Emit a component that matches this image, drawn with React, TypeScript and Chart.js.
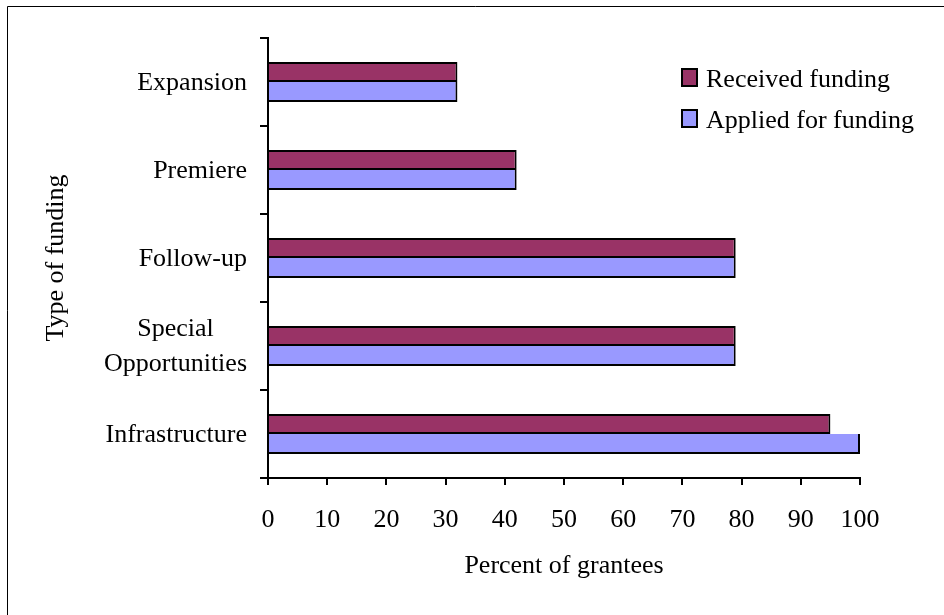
import React, { useEffect, useRef } from "react";
import { Chart, registerables } from "chart.js";

Chart.register(...registerables);

// Funding types, top to bottom
const categories: (string | string[])[] = [
  "Expansion",
  "Premiere",
  "Follow-up",
  ["Special", "Opportunities"],
  "Infrastructure",
];

// Percent of grantees for each funding type
const receivedFunding = [32, 42, 79, 79, 95];
const appliedFunding = [32, 42, 79, 79, 100];

const xMin = 0;
const xMax = 100;
const xStep = 10;

const FONT = '"Liberation Serif", "Times New Roman", Times, serif';
const FONT_SIZE = 26;
const MAROON = "#993366";
const LAVENDER = "#9999FF";

// Thin frame around the whole figure
const framePlugin = {
  id: "frame",
  beforeDraw(chart: any) {
    const { ctx } = chart;
    ctx.save();
    ctx.fillStyle = "#fff";
    ctx.fillRect(0, 0, chart.width, chart.height);
    ctx.strokeStyle = "#000";
    ctx.lineWidth = 1;
    ctx.beginPath();
    ctx.moveTo(7.5, chart.height);
    ctx.lineTo(7.5, 6.5);
    ctx.lineTo(chart.width, 6.5);
    ctx.stroke();
    ctx.restore();
  },
};

// Category labels: block right-aligned to the axis, lines centred within the block
const categoryLabelPlugin = {
  id: "categoryLabels",
  afterDraw(chart: any) {
    const { ctx } = chart;
    const scale = chart.scales.y;
    const rightEdge = scale.right - 21;
    const lineH = 35;
    ctx.save();
    ctx.font = `${FONT_SIZE}px ${FONT}`;
    ctx.fillStyle = "#000";
    ctx.textAlign = "center";
    ctx.textBaseline = "middle";
    chart.data.labels.forEach((label: string | string[], i: number) => {
      const lines = Array.isArray(label) ? label : [label];
      const blockW = Math.max(...lines.map((l) => ctx.measureText(l).width));
      const cx = rightEdge - blockW / 2;
      const cy = scale.getPixelForTick(i);
      const y0 = cy - ((lines.length - 1) * lineH) / 2;
      lines.forEach((l, k) => ctx.fillText(l, cx, y0 + k * lineH + 1));
    });
    ctx.restore();
  },
};

// Legend in the upper right corner
const legendPlugin = {
  id: "cornerLegend",
  afterDraw(chart: any) {
    const { ctx } = chart;
    ctx.save();
    ctx.font = `${FONT_SIZE}px ${FONT}`;
    ctx.textAlign = "left";
    ctx.textBaseline = "alphabetic";
    chart.data.datasets.forEach((ds: any, i: number) => {
      const top = 69 + i * 41;
      ctx.fillStyle = ds.backgroundColor;
      ctx.fillRect(682, top, 15, 17);
      ctx.strokeStyle = "#000";
      ctx.lineWidth = 2;
      ctx.strokeRect(682, top, 15, 17);
      ctx.fillStyle = "#000";
      ctx.fillText(ds.label, 706, top + 18);
    });
    ctx.restore();
  },
};

export default function App() {
  const canvasRef = useRef<HTMLCanvasElement | null>(null);

  useEffect(() => {
    if (!canvasRef.current) return;
    const chart = new Chart(canvasRef.current, {
      type: "bar",
      data: {
        labels: categories as any,
        datasets: [
          {
            label: "Received funding",
            data: receivedFunding,
            backgroundColor: MAROON,
            borderColor: "#000",
            borderWidth: { top: 2, right: 2, bottom: 2, left: 0 },
            borderSkipped: false,
            categoryPercentage: 40 / 88,
            barPercentage: 1,
          },
          {
            label: "Applied for funding",
            data: appliedFunding,
            backgroundColor: LAVENDER,
            borderColor: "#000",
            borderWidth: { top: 0, right: 2, bottom: 2, left: 0 },
            borderSkipped: false,
            categoryPercentage: 40 / 88,
            barPercentage: 1,
          },
        ],
      },
      options: {
        indexAxis: "y",
        animation: false,
        responsive: false,
        maintainAspectRatio: false,
        layout: { padding: { left: 0, top: 38, right: 84, bottom: 0 } },
        plugins: {
          legend: { display: false },
          tooltip: { enabled: false },
        },
        scales: {
          x: {
            type: "linear",
            min: xMin,
            max: xMax,
            afterFit(scale: any) {
              scale.height = 137;
            },
            ticks: {
              stepSize: xStep,
              color: "#000",
              padding: 20,
              font: { family: FONT, size: FONT_SIZE },
            },
            grid: {
              drawOnChartArea: false,
              drawTicks: true,
              tickLength: 7,
              color: "#000",
              lineWidth: 2,
            },
            border: { display: true, color: "#000", width: 2 },
            title: {
              display: true,
              text: "Percent of grantees",
              color: "#000",
              font: { family: FONT, size: FONT_SIZE },
              padding: { top: 0, bottom: 33 },
            },
          },
          y: {
            type: "category",
            afterFit(scale: any) {
              scale.width = 268;
            },
            ticks: { display: false },
            grid: {
              offset: true,
              drawOnChartArea: false,
              drawTicks: true,
              tickLength: 8,
              color: "#000",
              lineWidth: 2,
            },
            border: { display: true, color: "#000", width: 2 },
            title: {
              display: true,
              text: "Type of funding",
              color: "#000",
              font: { family: FONT, size: FONT_SIZE },
              padding: { top: 41, bottom: 0 },
            },
          },
        },
      },
      plugins: [framePlugin, categoryLabelPlugin, legendPlugin],
    });
    return () => chart.destroy();
  }, []);

  return (
    <div style={{ position: "fixed", left: 0, top: 0, width: 944, height: 615, background: "#fff" }}>
      <canvas ref={canvasRef} width={944} height={615} style={{ display: "block" }} />
    </div>
  );
}
